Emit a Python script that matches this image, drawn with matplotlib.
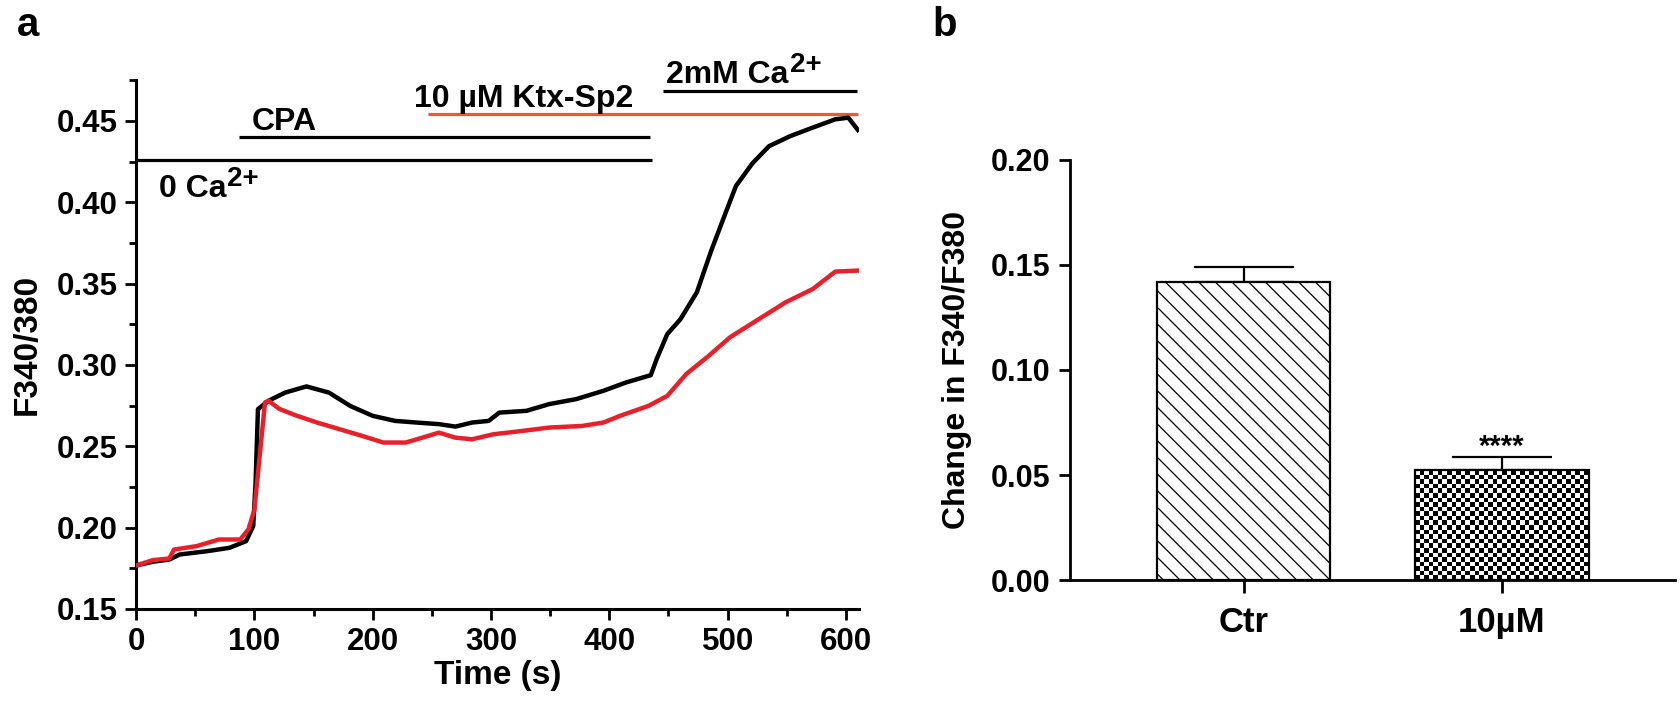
import numpy as np
import matplotlib
matplotlib.use("Agg")
import matplotlib.pyplot as plt
from matplotlib.ticker import MultipleLocator, FormatStrFormatter

plt.rcParams['font.family'] = ['Liberation Sans', 'DejaVu Sans']
plt.rcParams['font.weight'] = 'bold'
plt.rcParams['hatch.linewidth'] = 0.9
NARROW = ['Liberation Sans Narrow', 'Liberation Sans', 'DejaVu Sans']

# ---- panel a: F340/380 traces ----
t_ctr = [0, 14, 28, 37, 60, 79, 93, 99, 101, 103, 112, 126, 144, 163, 181, 200, 219, 237,
         256, 270, 284, 298, 307, 330, 349, 372, 395, 414, 435, 440, 449, 460, 474, 486,
         498, 507, 521, 535, 553, 572, 591, 602, 610]
f_ctr = [.1767, .179, .1804, .1835, .1855, .1876, .1917, .201, .2276, .2728, .278, .283,
         .2868, .283, .2748, .2687, .2656, .2646, .2636, .2621, .2646, .2656, .2707, .2718,
         .2759, .279, .2841, .2892, .2937, .3036, .319, .328, .3447, .370, .393, .410, .424,
         .4345, .4407, .4459, .451, .452, .4445]
t_ktx = [0, 14, 28, 32, 51, 70, 88, 95, 100, 105, 109, 112, 121, 135, 153, 172, 191, 209,
         228, 242, 256, 270, 284, 302, 326, 349, 377, 395, 409, 433, 449, 465, 484, 502,
         526, 549, 572, 591, 610]
f_ktx = [.1767, .180, .181, .1865, .1886, .1927, .1927, .199, .211, .248, .277, .278, .273,
         .269, .2646, .2605, .2564, .2523, .2523, .2553, .2584, .2553, .2543, .2574, .2594,
         .2615, .2625, .2646, .2687, .2748, .281, .2944, .3056, .317, .328, .3385, .3467,
         .3574, .358]

# application bars: start s, end s, level, colour
bar_start = [0, 87, 247, 445]
bar_end = [436, 434, 610, 609]
bar_level = [0.4259, 0.440, 0.4541, 0.4684]
bar_color = ['black', 'black', '#f05a28', 'black']
# bar labels: main text, superscript, x (s), baseline y
lab_text = ['0 Ca', 'CPA', '10 \u00b5M Ktx-Sp2', '2mM Ca']
lab_sup = ['2+', '', '', '2+']
lab_x = [19, 98, 235, 448]
lab_y = [0.4031, 0.4443, 0.4584, 0.4732]

# ---- panel b: change in F340/F380 ----
groups = ['Ctr', '10\u00b5M']
means = [0.142, 0.0523]
sems = [0.0072, 0.0063]

fig = plt.figure(figsize=(16.8, 7.04), dpi=100)
renderer = fig.canvas.get_renderer()

# ---------------- panel a ----------------
ax = fig.add_axes([0.081, 0.135, 0.4303, 0.751])
ax.set_xlim(0, 611)
ax.set_ylim(0.15, 0.475)
ax.plot(t_ctr, f_ctr, color='black', lw=3.2, zorder=3)
ax.plot(t_ktx, f_ktx, color='#e8202a', lw=3.2, zorder=4)
for s, e, lv, c in zip(bar_start, bar_end, bar_level, bar_color):
    ax.plot([s, e], [lv, lv], color=c, lw=2.3, clip_on=False, solid_capstyle='butt')
for txt, sup, x, y in zip(lab_text, lab_sup, lab_x, lab_y):
    t = ax.text(x, y, txt, fontsize=23, fontweight='bold', ha='left', va='baseline',
                clip_on=False)
    if sup:
        bb = t.get_window_extent(renderer)
        bx_, by_ = ax.transData.transform((x, y))
        sx, sy = ax.transData.inverted().transform((bb.x1 + 1, by_ + 11))
        ax.text(sx, sy, sup, fontsize=20, fontweight='bold', ha='left', va='baseline',
                clip_on=False)

ax.xaxis.set_major_locator(MultipleLocator(100))
ax.xaxis.set_minor_locator(MultipleLocator(50))
ax.yaxis.set_major_locator(MultipleLocator(0.05))
ax.yaxis.set_minor_locator(MultipleLocator(0.025))
ax.yaxis.set_major_formatter(FormatStrFormatter('%.2f'))
for sp in ['top', 'right']:
    ax.spines[sp].set_visible(False)
for sp in ['left', 'bottom']:
    ax.spines[sp].set_linewidth(2.2)
ax.tick_params(which='major', length=8, width=2, direction='out', pad=5)
ax.tick_params(which='minor', length=5, width=2, direction='out')
for lab in ax.get_xticklabels() + ax.get_yticklabels():
    lab.set_family(NARROW)
    lab.set_fontsize(22.5)
    lab.set_fontweight('bold')
ax.set_xlabel('Time (s)', family=NARROW, fontsize=24, fontweight='bold', labelpad=2)
ax.set_ylabel('F340/380', fontsize=24, fontweight='bold', labelpad=10)
fig.text(0.010, 0.965, 'a', fontsize=29, fontweight='bold', va='center', ha='left')

# ---------------- panel b ----------------
bx = fig.add_axes([0.637, 0.176, 0.360, 0.597])
bx.set_xlim(-0.671, 1.669)
bx.set_ylim(0, 0.20)
xs = np.arange(len(groups))
bars = bx.bar(xs, means, width=0.67, facecolor='white', edgecolor='black', lw=1.6, zorder=3)
bars[0].set_hatch('\\\\')
bars[1].set_facecolor('none')
bx.errorbar(xs, means, yerr=[np.zeros(len(sems)), sems], fmt='none', ecolor='black',
            elinewidth=1.6, capsize=36, capthick=1.6, zorder=2)

# checkerboard fill for the Ktx-Sp2 bar, clipped to the bar rectangle
b1 = bars[1]
x0, y0 = b1.get_x(), b1.get_y()
x1, y1 = x0 + b1.get_width(), y0 + b1.get_height()
p0 = bx.transData.transform((x0, y0))
p1 = bx.transData.transform((x1, y1))
cell = 4.5
nx = int(round(abs(p1[0] - p0[0]) / cell))
ny = int(round(abs(p1[1] - p0[1]) / cell))
ii, jj = np.indices((ny, nx))
checker = (ii + jj) % 2
im = bx.imshow(checker, extent=(x0, x1, y0, y1), cmap='gray', interpolation='nearest',
               aspect='auto', zorder=2.5, origin='lower')
im.set_clip_path(b1)
bx.set_xlim(-0.671, 1.669)
bx.set_ylim(0, 0.20)

bx.text(xs[1], means[1] + sems[1] + 0.0008, '****', fontsize=21, fontweight='bold',
        ha='center', va='baseline')

bx.set_xticks(xs)
bx.set_xticklabels(groups, fontsize=25, fontweight='bold')
bx.yaxis.set_major_locator(MultipleLocator(0.05))
bx.yaxis.set_major_formatter(FormatStrFormatter('%.2f'))
for lab in bx.get_yticklabels():
    lab.set_fontsize(22)
    lab.set_fontweight('bold')
for sp in ['top', 'right']:
    bx.spines[sp].set_visible(False)
for sp in ['left', 'bottom']:
    bx.spines[sp].set_linewidth(2.0)
bx.tick_params(axis='y', length=8, width=2, pad=6)
bx.tick_params(axis='x', length=9, width=2, pad=10)
bx.set_ylabel('Change in F340/F380', fontsize=23, fontweight='bold', labelpad=14)
fig.text(0.555, 0.965, 'b', fontsize=29, fontweight='bold', va='center', ha='left')

fig.savefig('out.png', dpi=100)
